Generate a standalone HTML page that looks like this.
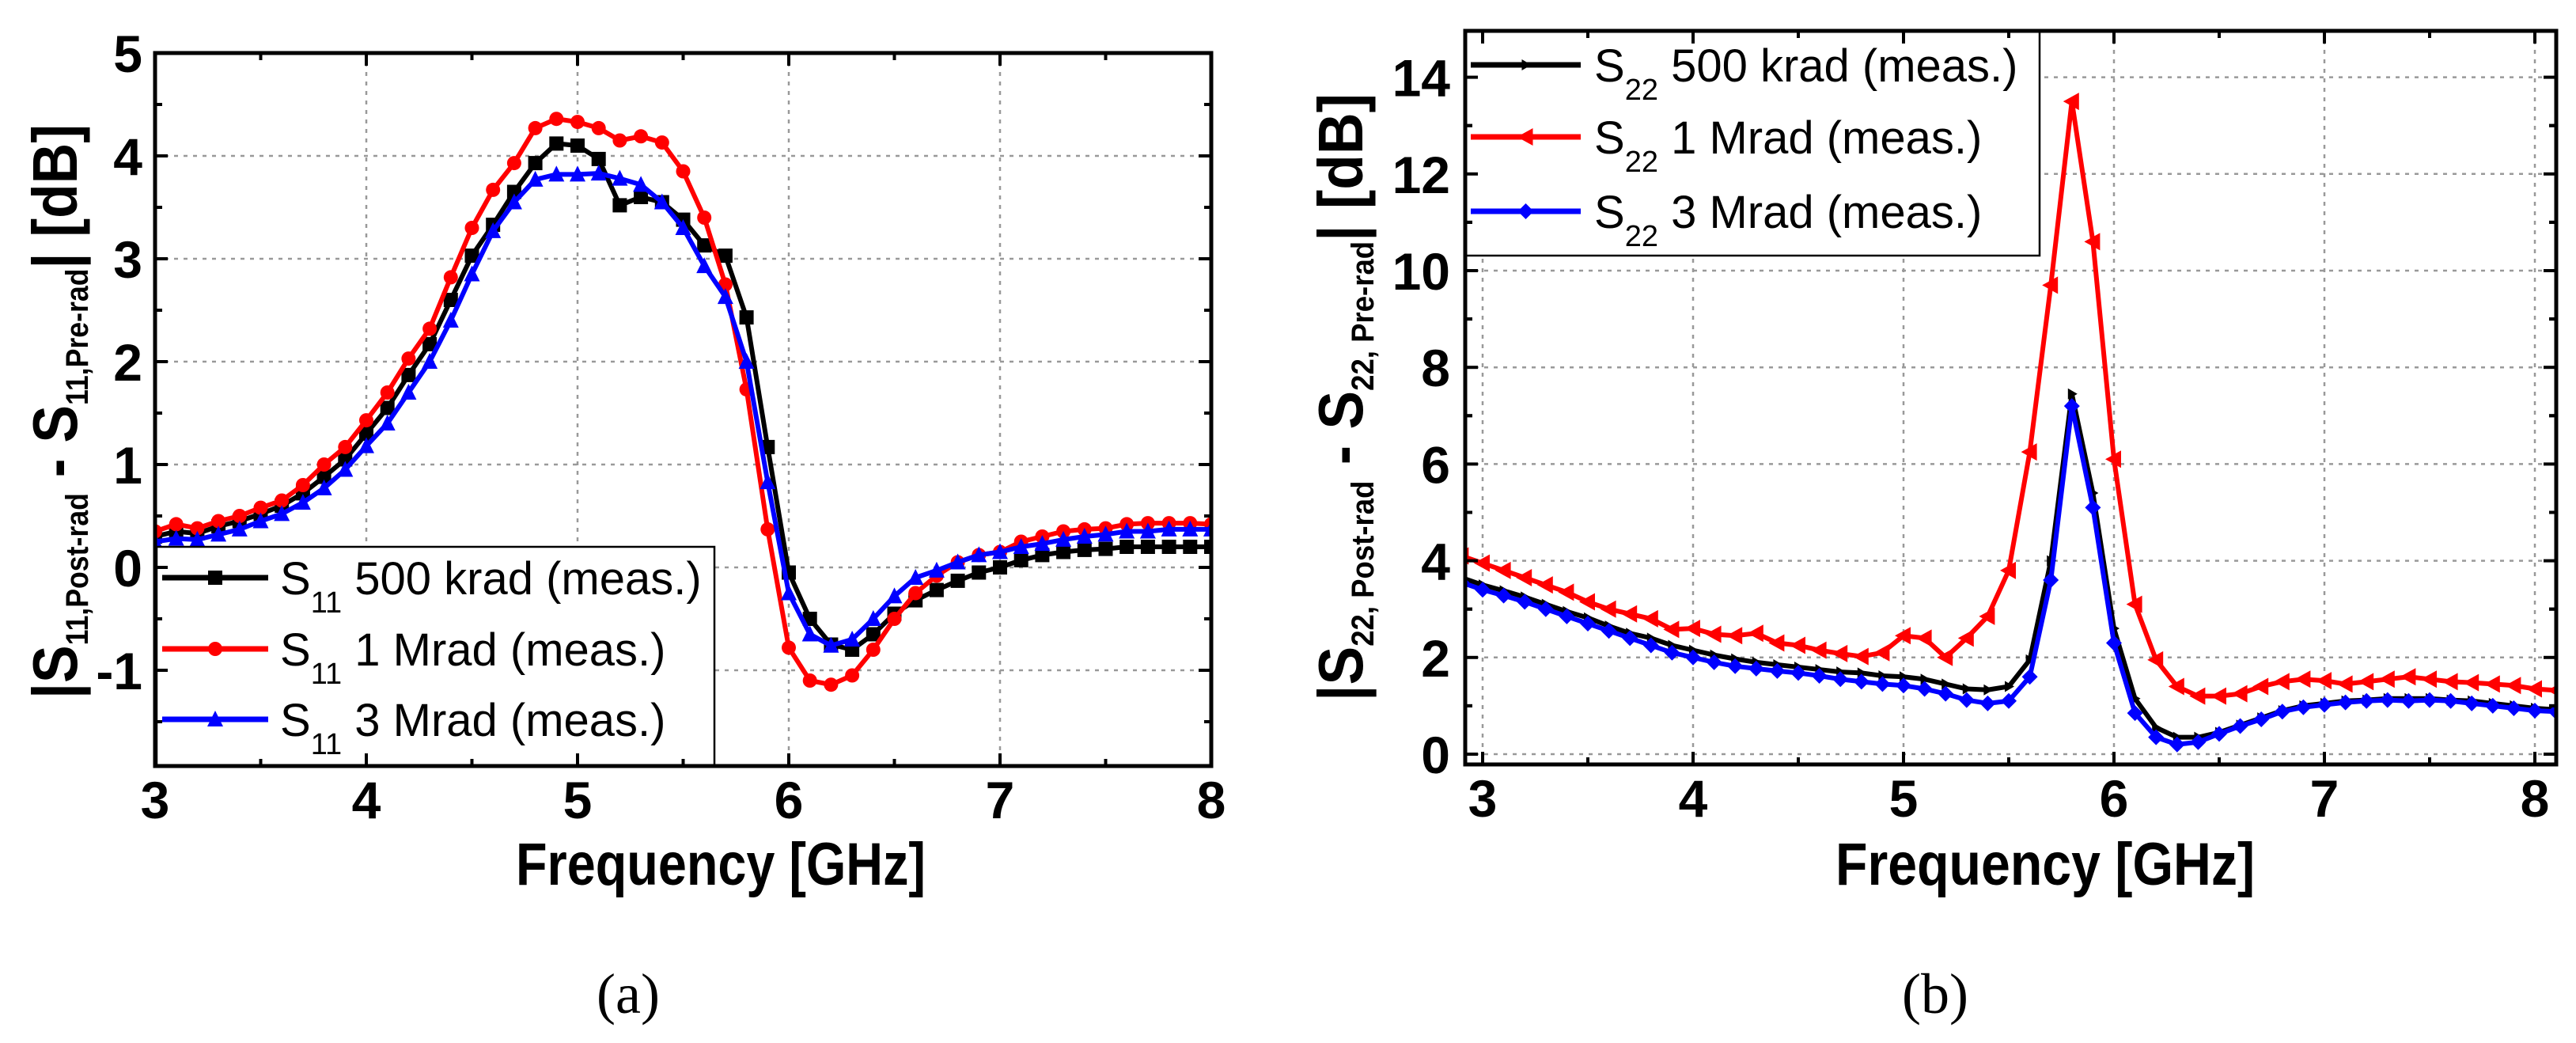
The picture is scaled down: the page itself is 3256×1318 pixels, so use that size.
<!DOCTYPE html>
<html><head><meta charset="utf-8"><style>
html,body{margin:0;padding:0;background:#fff;}
svg{display:block;font-family:"Liberation Sans",Arial,sans-serif;}
</style></head><body>
<svg id="fig" width="3256" height="1318" viewBox="0 0 3256 1318" xmlns="http://www.w3.org/2000/svg">
<g id="gA"></g>
<g id="gB"></g>
<text x="794" y="1280" font-family="Liberation Serif,serif" font-size="72" text-anchor="middle">(a)</text>
<text x="2446" y="1280" font-family="Liberation Serif,serif" font-size="72" text-anchor="middle">(b)</text>
</svg>
<script>
// ---- Chart (a) data ----
const freqA = [3.0,3.1,3.2,3.3,3.4,3.5,3.6,3.7,3.8,3.9,4.0,4.1,4.2,4.3,4.4,4.5,4.6,4.7,4.8,4.9,5.0,5.1,5.2,5.3,5.4,5.5,5.6,5.7,5.8,5.9,6.0,6.1,6.2,6.3,6.4,6.5,6.6,6.7,6.8,6.9,7.0,7.1,7.2,7.3,7.4,7.5,7.6,7.7,7.8,7.9,8.0];
const s11_500k = [0.3,0.35,0.33,0.4,0.45,0.52,0.6,0.72,0.88,1.05,1.3,1.55,1.87,2.17,2.6,3.03,3.33,3.65,3.93,4.12,4.1,3.97,3.52,3.6,3.55,3.38,3.13,3.03,2.43,1.17,-0.05,-0.5,-0.75,-0.8,-0.65,-0.45,-0.32,-0.22,-0.13,-0.05,0.0,0.07,0.12,0.15,0.17,0.18,0.2,0.2,0.2,0.2,0.2];
const s11_1M = [0.35,0.42,0.38,0.45,0.5,0.58,0.65,0.8,1.0,1.17,1.43,1.7,2.03,2.32,2.82,3.3,3.67,3.93,4.27,4.36,4.33,4.27,4.15,4.19,4.13,3.85,3.4,2.75,1.73,0.37,-0.78,-1.1,-1.14,-1.05,-0.8,-0.5,-0.25,-0.08,0.05,0.12,0.15,0.25,0.3,0.35,0.37,0.38,0.42,0.43,0.43,0.43,0.42];
const s11_3M = [0.25,0.28,0.27,0.32,0.37,0.45,0.52,0.63,0.77,0.95,1.18,1.4,1.7,2.0,2.4,2.85,3.27,3.55,3.77,3.82,3.82,3.83,3.78,3.72,3.55,3.3,2.93,2.63,2.0,0.83,-0.25,-0.65,-0.76,-0.7,-0.5,-0.28,-0.1,-0.03,0.05,0.12,0.15,0.2,0.23,0.27,0.3,0.32,0.35,0.35,0.37,0.37,0.37];
const xTicksA = [3,4,5,6,7,8];
const yTicksA = [-1,0,1,2,3,4,5];
// ---- Chart (b) data ----
const freqB = [2.9,3.0,3.1,3.2,3.3,3.4,3.5,3.6,3.7,3.8,3.9,4.0,4.1,4.2,4.3,4.4,4.5,4.6,4.7,4.8,4.9,5.0,5.1,5.2,5.3,5.4,5.5,5.6,5.7,5.8,5.9,6.0,6.1,6.2,6.3,6.4,6.5,6.6,6.7,6.8,6.9,7.0,7.1,7.2,7.3,7.4,7.5,7.6,7.7,7.8,7.9,8.0,8.1];
const s22_500k = [3.65,3.5,3.38,3.25,3.1,2.95,2.82,2.65,2.5,2.4,2.25,2.15,2.05,1.97,1.9,1.85,1.8,1.75,1.7,1.68,1.62,1.6,1.55,1.45,1.35,1.33,1.4,1.95,4.0,7.45,5.4,2.6,1.15,0.55,0.35,0.35,0.45,0.6,0.75,0.9,1.0,1.05,1.1,1.12,1.15,1.15,1.15,1.12,1.1,1.05,1.0,0.95,0.92];
const s22_1M = [4.1,3.95,3.8,3.65,3.5,3.35,3.15,3.0,2.9,2.8,2.58,2.6,2.48,2.45,2.5,2.3,2.25,2.15,2.08,2.02,2.1,2.45,2.4,2.0,2.4,2.85,3.8,6.25,9.7,13.5,10.6,6.1,3.1,1.95,1.4,1.2,1.2,1.25,1.4,1.5,1.55,1.52,1.45,1.5,1.55,1.6,1.55,1.5,1.48,1.45,1.42,1.35,1.32];
const s22_3M = [3.55,3.4,3.28,3.15,3.0,2.85,2.7,2.55,2.4,2.25,2.1,2.0,1.9,1.82,1.77,1.72,1.68,1.62,1.55,1.5,1.45,1.42,1.35,1.25,1.12,1.05,1.1,1.6,3.6,7.2,5.1,2.3,0.85,0.35,0.2,0.25,0.42,0.58,0.72,0.88,0.97,1.02,1.07,1.1,1.12,1.1,1.12,1.1,1.05,1.0,0.95,0.9,0.88];
const xTicksB = [3,4,5,6,7,8];
const yTicksB = [0,2,4,6,8,10,12,14];

const NS = "http://www.w3.org/2000/svg";
function mk(parent, tag, attrs){ const e=document.createElementNS(NS,tag); for(const k in attrs) e.setAttribute(k,attrs[k]); parent.appendChild(e); return e; }

function marker(g, kind, cx, cy, color){
  const s=9; let e;
  if(kind==='square') e=mk(g,'rect',{x:cx-s,y:cy-s,width:2*s,height:2*s,fill:color});
  else if(kind==='circle') e=mk(g,'circle',{cx:cx,cy:cy,r:s,fill:color});
  else if(kind==='tri-up') e=mk(g,'polygon',{points:`${cx},${cy-s-2} ${cx-s-1},${cy+s} ${cx+s+1},${cy+s}`,fill:color});
  else if(kind==='tri-left') e=mk(g,'polygon',{points:`${cx-s-2},${cy} ${cx+s},${cy-s-2} ${cx+s},${cy+s+2}`,fill:color});
  else if(kind==='tri-right') e=mk(g,'polygon',{points:`${cx+7},${cy} ${cx-5},${cy-7} ${cx-5},${cy+7}`,fill:color});
  else if(kind==='diamond') e=mk(g,'polygon',{points:`${cx},${cy-s-1} ${cx+s+1},${cy} ${cx},${cy+s+1} ${cx-s-1},${cy}`,fill:color});
  
  
}

function chart(cfg){
  const g=document.getElementById(cfg.gid);
  const X=v=>cfg.x0+(v-cfg.xv0)*cfg.px;
  const Y=v=>cfg.y0-v*cfg.py;
  const L=cfg.L,R=cfg.R,T=cfg.T,B=cfg.B;
  const clipId=cfg.gid+'clip';
  const defs=mk(g,'defs',{});
  const cp=mk(defs,'clipPath',{id:clipId});
  mk(cp,'rect',{x:L,y:T,width:R-L,height:B-T});
  const grid=mk(g,'g',{stroke:'#999','stroke-width':2.5,'stroke-dasharray':'5 7'});
  
  
  cfg.xt.forEach(v=>{ if(X(v)>L+3&&X(v)<R-3) mk(grid,'line',{x1:X(v),x2:X(v),y1:T,y2:B}); });
  cfg.yt.forEach(v=>{ if(Y(v)>T+3&&Y(v)<B-3) mk(grid,'line',{x1:L,x2:R,y1:Y(v),y2:Y(v)}); });
  const sg=mk(g,'g',{'clip-path':`url(#${clipId})`});
  
  
  cfg.series.forEach(s=>{
    const pts=cfg.fx.map((f,i)=>X(f)+','+Y(s.v[i])).join(' ');
    const pl=mk(sg,'polyline',{points:pts,fill:'none',stroke:s.c,'stroke-width':6,'stroke-linejoin':'round'});
    
    
    cfg.fx.forEach((f,i)=>marker(sg,s.m,X(f),Y(s.v[i]),s.c));
  });
  const lg=mk(g,'g',{});
  
  
  const lb=cfg.leg;
  mk(lg,'rect',{x:lb.x,y:lb.y,width:lb.w,height:lb.h,fill:'#fff',stroke:'#000','stroke-width':2.5});
  cfg.series.forEach((s,i)=>{
    const cy=lb.rows[i];
    const en=mk(lg,'g',{});
    
    
    mk(en,'line',{x1:lb.lx1,x2:lb.lx2,y1:cy,y2:cy,stroke:s.c,'stroke-width':7});
    marker(en,s.m,(lb.lx1+lb.lx2)/2,cy,s.c);
    const t=mk(en,'text',{x:lb.tx,y:cy+21,'font-size':58});
    t.innerHTML=`S<tspan dy="23" font-size="38">${cfg.sub}</tspan><tspan dy="-23"> ${s.label}</tspan>`;
  });
  const fr=mk(g,'rect',{x:L,y:T,width:R-L,height:B-T,fill:'none',stroke:'#000','stroke-width':5});
  
  
  const tk=mk(g,'g',{stroke:'#000','stroke-width':4});
  
  
  cfg.xt.forEach(v=>{ const x=X(v); if(x>=L-1&&x<=R+1){ mk(tk,'line',{x1:x,x2:x,y1:B,y2:B-16}); mk(tk,'line',{x1:x,x2:x,y1:T,y2:T+16}); }
    const xm=X(v+0.5); if(xm<R-2&&xm>L+2){ mk(tk,'line',{x1:xm,x2:xm,y1:B,y2:B-9}); mk(tk,'line',{x1:xm,x2:xm,y1:T,y2:T+9}); } });
  cfg.yt.forEach(v=>{ const y=Y(v); mk(tk,'line',{x1:L,x2:L+16,y1:y,y2:y}); mk(tk,'line',{x1:R,x2:R-16,y1:y,y2:y});
    [cfg.ym, -cfg.ym].forEach(d=>{const ym=Y(v+d); if(ym>T+2&&ym<B-2){ mk(tk,'line',{x1:L,x2:L+9,y1:ym,y2:ym}); mk(tk,'line',{x1:R,x2:R-9,y1:ym,y2:ym}); }}); });
  cfg.xt.forEach(v=>{ const t=mk(g,'text',{x:X(v),y:cfg.xly,'font-size':66,'font-weight':'bold','text-anchor':'middle'}); t.textContent=v;
      });
  cfg.yt.forEach(v=>{ const t=mk(g,'text',{x:cfg.ylx,y:Y(v)+24,'font-size':66,'font-weight':'bold','text-anchor':'end'}); t.textContent=v;
      });
  const xt=mk(g,'text',{x:cfg.xtx,y:1118,'font-size':76,'font-weight':'bold','text-anchor':'middle',textLength:cfg.xtl,lengthAdjust:'spacingAndGlyphs'});
  xt.textContent='Frequency [GHz]';
   
  const yt=mk(g,'text',{x:0,y:0,'font-size':80,'font-weight':'bold','text-anchor':'middle',
    transform:`translate(${cfg.ytx},${cfg.yty}) rotate(-90)`,textLength:cfg.ytl,lengthAdjust:'spacingAndGlyphs'});
  yt.innerHTML=`|S<tspan dy="14" font-size="40">${cfg.sub}${cfg.sep}Post-rad</tspan><tspan dy="-14"> - S</tspan><tspan dy="14" font-size="40">${cfg.sub}${cfg.sep}Pre-rad</tspan><tspan dy="-14">| [dB]</tspan>`;
   
}

chart({gid:'gA',x0:196,xv0:3,px:267,y0:717,py:130,L:196,R:1531,T:67,B:968,
  fx:freqA,xt:xTicksA,yt:yTicksA,ym:0.5,xly:1034,ylx:180,xtx:911,xtl:518,ytx:97,yty:520,ytl:726,sub:'11',sep:',',
  series:[{name:'series-s11-500krad',v:s11_500k,c:'#000',m:'square',label:'500 krad (meas.)'},
          {name:'series-s11-1mrad',v:s11_1M,c:'#f00',m:'circle',label:'1 Mrad (meas.)'},
          {name:'series-s11-3mrad',v:s11_3M,c:'#00f',m:'tri-up',label:'3 Mrad (meas.)'}],
  leg:{x:198,y:691,w:705,h:277,rows:[730,820,909],lx1:205,lx2:339,tx:354}});
chart({gid:'gB',x0:1874,xv0:3,px:266,y0:953,py:61.1,L:1852,R:3231,T:39,B:966,
  fx:freqB,xt:xTicksB,yt:yTicksB,ym:1,xly:1032,ylx:1833,xtx:2585,xtl:530,ytx:1722,yty:502,ytl:768,sub:'22',sep:', ',
  series:[{name:'series-s22-500krad',v:s22_500k,c:'#000',m:'tri-right',label:'500 krad (meas.)'},
          {name:'series-s22-1mrad',v:s22_1M,c:'#f00',m:'tri-left',label:'1 Mrad (meas.)'},
          {name:'series-s22-3mrad',v:s22_3M,c:'#00f',m:'diamond',label:'3 Mrad (meas.)'}],
  leg:{x:1852,y:39,w:726,h:284,rows:[82,173,267],lx1:1859,lx2:1998,tx:2015}});
</script>
</body></html>
